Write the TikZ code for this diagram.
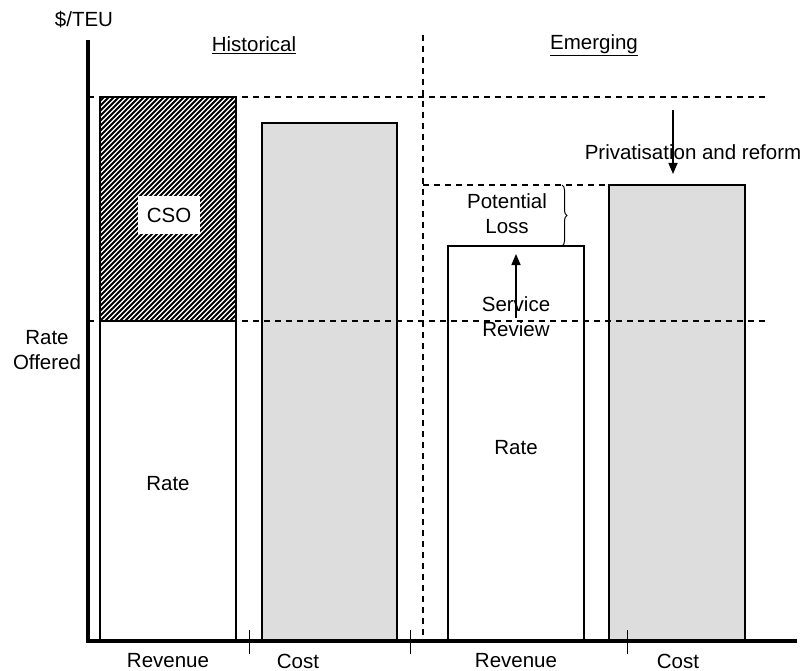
\documentclass[tikz,border=0pt]{standalone}
\usepackage{fontspec}
\setmainfont{Liberation Sans}
\usetikzlibrary{arrows.meta,decorations.pathreplacing}
\definecolor{barfill}{HTML}{DDDDDD}
\tikzset{
  bar/.style={draw=black,line width=1.3pt},
  guide/.style={draw=black,line width=1.3pt,dash pattern=on 6pt off 5pt},
  axis/.style={draw=black,line width=4pt},
  lbl/.style={inner sep=0pt,font=\fontsize{20.5}{25}\selectfont,align=center},
  arr/.style={draw=black,line width=1.5pt,-{Triangle[length=11pt,width=9pt]}},
  tick/.style={draw=black,line width=1pt}
}
\begin{document}
\begin{tikzpicture}[x=1pt,y=-1pt]
\useasboundingbox (0,0) rectangle (803,671);
% bars
\fill[white] (100,321) rectangle (236,641);
\begin{scope}
  \clip (100,97) rectangle (236,321);
  \fill[white] (100,97) rectangle (236,321);
  \foreach \i in {-60,...,32} {
    \draw[line width=1.9pt] (100+\i*5,321) -- ++(240,-240);
  }
\end{scope}
\draw[bar] (100,97) rectangle (236,641);
\draw[bar] (100,321) -- (236,321);
\draw[bar,fill=barfill] (262,123) rectangle (397,641);
\draw[bar,fill=white] (448,246) rectangle (584,641);
\draw[bar,fill=barfill] (609,185) rectangle (745,641);
% guides
\coordinate (g1a) at (88,97);  \coordinate (g1b) at (767,97);
\coordinate (g2a) at (88,321); \coordinate (g2b) at (769,321);
\coordinate (g3a) at (423,185); \coordinate (g3b) at (609,185);
\coordinate (dva) at (423,35);  \coordinate (dvb) at (423,641);
\draw[guide] (g1a) -- (g1b);
\draw[guide] (g2a) -- (g2b);
\draw[guide] (g3a) -- (g3b);
\draw[guide] (dva) -- (dvb);
% axes
\coordinate (ytop) at (88,40);
\coordinate (orig) at (88,643);
\coordinate (xa) at (86,641);
\coordinate (xend) at (797,641);
\draw[axis] (ytop) -- (orig);
\draw[axis] (xa) -- (xend);
% ticks
\foreach \x/\n in {249/t1,410/t2,627/t3} {
  \coordinate (\n a) at (\x,630); \coordinate (\n b) at (\x,654);
  \draw[tick] (\n a) -- (\n b);
}
% brace
\coordinate (bra) at (562,185); \coordinate (brb) at (562,246);
\draw[line width=1pt,decorate,decoration={brace,amplitude=5pt}] (bra) -- (brb);
% arrows
\coordinate (sr1) at (516,318); \coordinate (sr2) at (516,254);
\draw[arr] (sr1) -- (sr2);
\coordinate (pr1) at (673,110); \coordinate (pr2) at (673,174);
\draw[arr] (pr1) -- (pr2);
% labels
\node[lbl] (teu) at (84,20) {\$/TEU};
\node[lbl] (hist) at (254,45) {\underline{Historical}};
\node[lbl] (emer) at (594,45) {\underline{Emerging}};
\node[lbl,fill=white,minimum width=62pt,minimum height=37pt] (cso) at (169,215) {CSO};
\node[lbl] (rate1) at (168,484) {Rate};
\node[lbl] (rateoff) at (47,350) {Rate\\Offered};
\node[lbl] (ploss) at (507,214) {Potential\\Loss};
\node[lbl] (srev) at (516,317) {Service\\Review};
\node[lbl] (rate2) at (516,448) {Rate};
\node[lbl] (priv) at (693,152) {Privatisation and reform};
\node[lbl] (rv1) at (168,661) {Revenue};
\node[lbl] (c1) at (298,661) {Cost};
\node[lbl] (rv2) at (516,661) {Revenue};
\node[lbl] (c2) at (678,661) {Cost};
\end{tikzpicture}
\end{document}
